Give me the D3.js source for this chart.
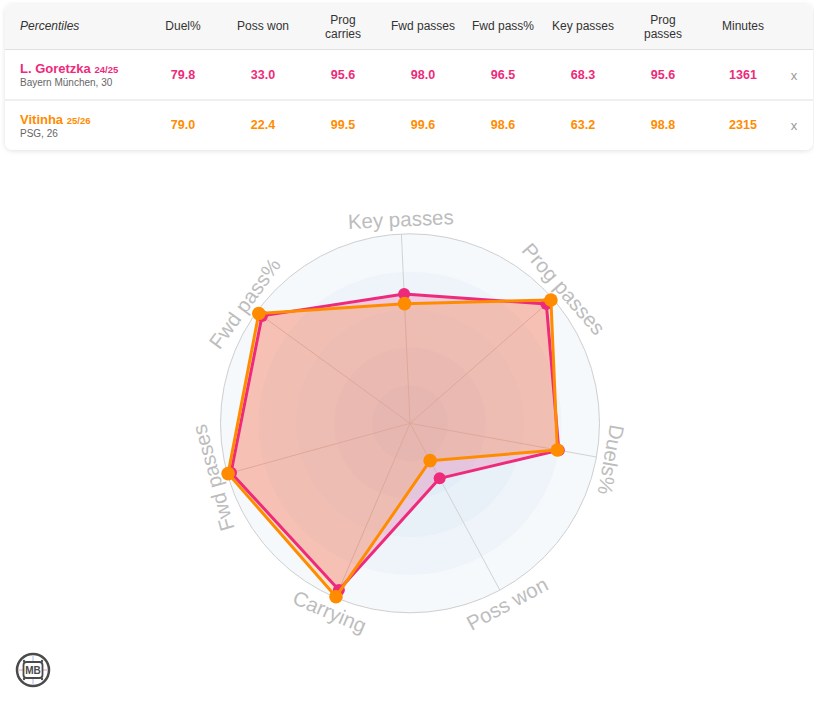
<!DOCTYPE html>
<html>
<head>
<meta charset="utf-8">
<script src="https://cdn.jsdelivr.net/npm/d3@7"></script>
<style>
  html, body { margin: 0; padding: 0; background: #fff; }
  svg { display: block; font-family: "Liberation Sans", Arial, sans-serif; }
</style>
</head>
<body>
<svg id="chart" width="814" height="703"></svg>
<script>
// ---- DATA ----
const tableColumns = ["Duel%", "Poss won", "Prog\ncarries", "Fwd passes", "Fwd pass%", "Key passes", "Prog\npasses", "Minutes"];
const playerNames = ["L. Goretzka", "Vitinha"];
const playerSeasons = ["24/25", "25/26"];
const playerSubtitles = ["Bayern München, 30", "PSG, 26"];
const playerColors = ["#ee2a7b", "#ff8c00"];
const goretzkaRow = ["79.8", "33.0", "95.6", "98.0", "96.5", "68.3", "95.6", "1361"];
const vitinhaRow = ["79.0", "22.4", "99.5", "99.6", "98.6", "63.2", "98.8", "2315"];
const radarAxes = ["Key passes", "Prog passes", "Duels%", "Poss won", "Carrying", "Fwd passes", "Fwd pass%"];
const goretzkaRadar = [68.3, 95.6, 79.8, 33.0, 95.6, 98.0, 96.5];
const vitinhaRadar = [63.2, 98.8, 79.0, 22.4, 99.5, 99.6, 98.6];
const ringLevels = [100, 80, 60, 40, 20];
const ringColors = ["#f5f9fc", "#eef4fa", "#e8f0f8", "#e3edf7", "#dde9f5"];

const svg = d3.select("#chart");

// ---- TABLE CARD ----
const defs = svg.append("defs");
const f = defs.append("filter").attr("id", "shadow").attr("x", "-5%").attr("y", "-10%").attr("width", "110%").attr("height", "130%");
f.append("feDropShadow").attr("dx", 0).attr("dy", 1).attr("stdDeviation", 2.5).attr("flood-color", "#000").attr("flood-opacity", 0.12);
const clip = defs.append("clipPath").attr("id", "cardclip");
clip.append("rect").attr("x", 5).attr("y", 4).attr("width", 808).attr("height", 146).attr("rx", 8);

svg.append("rect").attr("x", 5).attr("y", 4).attr("width", 808).attr("height", 146).attr("rx", 8)
  .attr("fill", "#fff").attr("filter", "url(#shadow)");
const card = svg.append("g").attr("clip-path", "url(#cardclip)");
card.append("rect").attr("x", 5).attr("y", 4).attr("width", 808).attr("height", 45.5).attr("fill", "#f7f7f7");
card.append("line").attr("x1", 5).attr("x2", 813).attr("y1", 49.5).attr("y2", 49.5).attr("stroke", "#e0e0e0").attr("stroke-width", 1.2);
card.append("line").attr("x1", 5).attr("x2", 813).attr("y1", 100).attr("y2", 100).attr("stroke", "#e0e0e0").attr("stroke-width", 1.2);

const colX = d3.scalePoint().domain(tableColumns).range([183, 743]);

svg.append("text").attr("x", 20).attr("y", 26).attr("dominant-baseline", "central")
  .attr("font-size", 12).attr("font-style", "italic").attr("fill", "#333").text("Percentiles");

tableColumns.forEach(c => {
  const lines = c.split("\n");
  const t = svg.append("text").attr("x", colX(c)).attr("text-anchor", "middle")
    .attr("font-size", 12).attr("fill", "#333");
  if (lines.length === 1) {
    t.attr("y", 26).attr("dominant-baseline", "central").text(c);
  } else {
    lines.forEach((l, i) => t.append("tspan").attr("x", colX(c)).attr("y", 20 + i * 13.5).attr("dominant-baseline", "central").text(l));
  }
});

const rows = [goretzkaRow, vitinhaRow];
rows.forEach((row, r) => {
  const y0 = 50 + r * 50.5;
  const name = svg.append("text").attr("x", 20).attr("y", y0 + 23).attr("font-size", 13)
    .attr("font-weight", "bold").attr("fill", playerColors[r]);
  name.append("tspan").text(playerNames[r] + " ");
  name.append("tspan").attr("font-size", 9.5).text(playerSeasons[r]);
  svg.append("text").attr("x", 20).attr("y", y0 + 36).attr("font-size", 10).attr("fill", "#666").text(playerSubtitles[r]);
  row.forEach((v, i) => {
    svg.append("text").attr("x", colX(tableColumns[i])).attr("y", y0 + 24.5).attr("text-anchor", "middle")
      .attr("dominant-baseline", "central").attr("font-size", 12.5).attr("font-weight", "bold")
      .attr("fill", playerColors[r]).text(v);
  });
  svg.append("text").attr("x", 794).attr("y", y0 + 25).attr("text-anchor", "middle").attr("dominant-baseline", "central")
    .attr("font-size", 13).attr("fill", "#999").text("x");
});

// ---- RADAR ----
const cx = 410, cy = 423.3, R = 189.5;
const rOffset = -2.6 * Math.PI / 180;
const rScale = d3.scaleLinear().domain([0, 100]).range([0, R]);
const aScale = d3.scaleLinear().domain([0, radarAxes.length]).range([rOffset, rOffset + 2 * Math.PI]);
const g = svg.append("g").attr("transform", `translate(${cx},${cy})`);

ringLevels.forEach((lv, i) => {
  g.append("circle").attr("r", rScale(lv)).attr("fill", ringColors[i]);
});
g.append("circle").attr("r", rScale(100)).attr("fill", "none").attr("stroke", "#cfcfcf").attr("stroke-width", 1);

radarAxes.forEach((a, i) => {
  const ang = aScale(i);
  g.append("line").attr("x1", 0).attr("y1", 0)
    .attr("x2", rScale(100) * Math.sin(ang)).attr("y2", -rScale(100) * Math.cos(ang))
    .attr("stroke", "#d2d2d2").attr("stroke-width", 1);
});

const series = [goretzkaRadar, vitinhaRadar];
const line = d3.lineRadial().angle((d, i) => aScale(i)).radius(d => rScale(d)).curve(d3.curveLinearClosed);

series.forEach((s, k) => {
  g.append("path").attr("d", line(s)).attr("fill", playerColors[k]).attr("fill-opacity", 0.2).attr("stroke", "none");
});
series.forEach((s, k) => {
  g.append("path").attr("d", line(s)).attr("fill", "none").attr("stroke", playerColors[k]).attr("stroke-width", 3)
    .attr("stroke-linejoin", "round");
  s.forEach((v, i) => {
    const ang = aScale(i);
    g.append("circle").attr("cx", rScale(v) * Math.sin(ang)).attr("cy", -rScale(v) * Math.cos(ang))
      .attr("r", k === 0 ? 6 : 6.8).attr("fill", playerColors[k]);
  });
});

// Axis labels
const labelR = R + 15;
radarAxes.forEach((a, i) => {
  const ang = aScale(i);
  const deg = ang * 180 / Math.PI;
  const x = labelR * Math.sin(ang), y = -labelR * Math.cos(ang);
  const flip = deg > 130 && deg < 230;
  const rot = flip ? deg - 180 : deg;
  g.append("text").attr("transform", `translate(${x},${y}) rotate(${rot})`)
    .attr("text-anchor", "middle").attr("dominant-baseline", "central")
    .attr("font-size", 20.5).attr("fill", "#bdbdbd").text(a);
});

// ---- LOGO ----
const logo = svg.append("g").attr("transform", "translate(33,670)");
logo.append("circle").attr("r", 16).attr("fill", "#fff").attr("stroke", "#4a4a4a").attr("stroke-width", 2.5);
logo.append("line").attr("x1", -14).attr("x2", 14).attr("y1", 0).attr("y2", 0).attr("stroke", "#e37aa8").attr("stroke-width", 0.8);
logo.append("line").attr("x1", 0).attr("x2", 0).attr("y1", -14).attr("y2", 14).attr("stroke", "#8fa8e0").attr("stroke-width", 0.8);
[[-9, -9], [9, -9], [-9, 9], [9, 9]].forEach(p => logo.append("circle").attr("cx", p[0]).attr("cy", p[1]).attr("r", 1.2).attr("fill", "#555"));
logo.append("rect").attr("x", -9.5).attr("y", -8).attr("width", 19).attr("height", 16).attr("rx", 3)
  .attr("fill", "#fff").attr("stroke", "#4a4a4a").attr("stroke-width", 1.8);
logo.append("text").attr("x", 0).attr("y", 0.5).attr("text-anchor", "middle").attr("dominant-baseline", "central")
  .attr("font-size", 10).attr("font-weight", "bold").attr("fill", "#4a4a4a").text("MB");
</script>
</body>
</html>
